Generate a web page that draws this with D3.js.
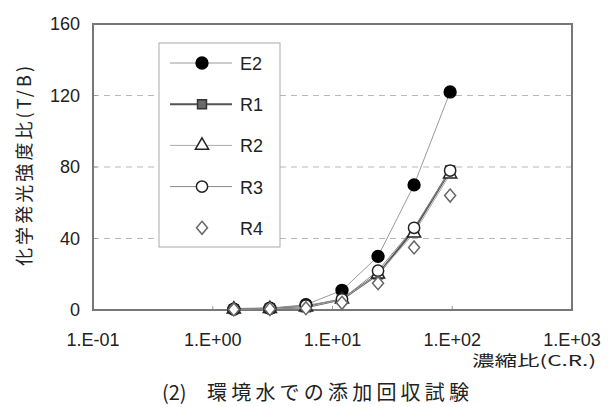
<!DOCTYPE html>
<html><head><meta charset="utf-8">
<script src="https://cdn.jsdelivr.net/npm/d3@7"></script>
<style>body{margin:0;background:#fff}svg{display:block}</style>
</head><body>
<svg id="c" width="611" height="407"></svg>
<script>
const concentration = [1.5, 3, 6, 12, 24, 48, 96];
const seriesNames = ["E2", "R1", "R2", "R3", "R4"];
const E2 = [0.5, 1, 3, 11, 30, 70, 122];
const R1 = [0.5, 0.8, 1.5, 6, 20, 45, 78];
const R2 = [0.4, 0.7, 1.5, 6, 20, 43, 76];
const R3 = [0.5, 1, 2.5, 6, 22, 46, 78];
const R4 = [0.3, 0.5, 1, 4, 15, 35, 64];
const xTicks = [0.1, 1, 10, 100, 1000];
const xTickLabels = ["1.E-01", "1.E+00", "1.E+01", "1.E+02", "1.E+03"];
const yTicks = [0, 40, 80, 120, 160];
const yTitle = "化学発光強度比(T/B)";
const xTitle = "濃縮比(C.R.)";
const captionNo = "(2)";
const captionText = "環境水での添加回収試験";

const values = {E2, R1, R2, R3, R4};
const diamond = {draw(ctx, size) { const w = 5.5, h = 6.5;
  ctx.moveTo(0, -h); ctx.lineTo(w, 0); ctx.lineTo(0, h); ctx.lineTo(-w, 0); ctx.closePath(); }};
const styles = {
  E2: {line: "#9a9a9a", lw: 1, sym: d3.symbolCircle, fill: "#000", stroke: "#000", size: 110},
  R1: {line: "#555", lw: 2, sym: d3.symbolSquare, fill: "#6a6a6a", stroke: "#333", size: 80},
  R2: {line: "#aaa", lw: 1, sym: d3.symbolTriangle, fill: "#fff", stroke: "#222", size: 75},
  R3: {line: "#888", lw: 1, sym: d3.symbolCircle, fill: "#fff", stroke: "#222", size: 100},
  R4: {line: null, lw: 0, sym: diamond, fill: "#fff", stroke: "#666", size: 70}
};

const svg = d3.select("#c");
const L = 93, R = 572, T = 24, B = 310;
const x = d3.scaleLog().domain([0.1, 1000]).range([L, R]);
const y = d3.scaleLinear().domain([0, 160]).range([B, T]);
const font = "'Liberation Sans', Arial, sans-serif";
const cjk = "'Noto Sans CJK JP', sans-serif";

// gridlines
svg.append("g").selectAll("line").data(yTicks.filter(v => v > 0 && v < 160)).join("line")
  .attr("x1", L).attr("x2", R).attr("y1", d => y(d)).attr("y2", d => y(d))
  .attr("stroke", "#b8b8b8").attr("stroke-width", 1).attr("stroke-dasharray", "6,5");

// inward ticks
svg.append("g").selectAll("line").data(yTicks).join("line")
  .attr("x1", L).attr("x2", L + 4).attr("y1", d => y(d)).attr("y2", d => y(d))
  .attr("stroke", "#999");
svg.append("g").selectAll("line").data(xTicks).join("line")
  .attr("x1", d => x(d)).attr("x2", d => x(d)).attr("y1", B).attr("y2", B - 4)
  .attr("stroke", "#999");

// frame
svg.append("rect").attr("x", L).attr("y", T).attr("width", R - L).attr("height", B - T)
  .attr("fill", "none").attr("stroke", "#777").attr("stroke-width", 2);

// tick labels
svg.append("g").selectAll("text").data(yTicks).join("text")
  .attr("x", 80).attr("y", d => y(d) + 6).attr("text-anchor", "end")
  .attr("font-family", font).attr("font-size", 18).attr("fill", "#222").text(d => d);
svg.append("g").selectAll("text").data(xTicks).join("text")
  .attr("x", d => x(d)).attr("y", 346).attr("text-anchor", "middle")
  .attr("font-family", font).attr("font-size", 18).attr("fill", "#222")
  .text((d, i) => xTickLabels[i]);

// titles
svg.append("text").attr("transform", "translate(31,166) rotate(-90)")
  .attr("text-anchor", "middle").attr("font-family", cjk).attr("font-size", 18)
  .attr("fill", "#222").attr("textLength", 200).attr("lengthAdjust", "spacing").text(yTitle);
svg.append("text").attr("x", 596).attr("y", 366).attr("text-anchor", "end")
  .attr("font-family", cjk).attr("font-size", 15).attr("fill", "#222")
  .attr("textLength", 124).attr("lengthAdjust", "spacingAndGlyphs").text(xTitle);
svg.append("text").attr("x", 162).attr("y", 400)
  .attr("font-family", cjk).attr("font-size", 20).attr("fill", "#222").text(captionNo);
svg.append("text").attr("x", 207).attr("y", 400)
  .attr("font-family", cjk).attr("font-size", 20).attr("fill", "#222")
  .attr("textLength", 262).attr("lengthAdjust", "spacing").text(captionText);

// lines
const line = d3.line().x((d, i) => x(concentration[i])).y(d => y(d));
seriesNames.forEach(n => {
  const s = styles[n];
  if (s.line) svg.append("path").datum(values[n]).attr("d", line)
    .attr("fill", "none").attr("stroke", s.line).attr("stroke-width", s.lw);
});
// markers
seriesNames.forEach(n => {
  const s = styles[n];
  svg.append("g").selectAll("path").data(values[n]).join("path")
    .attr("transform", (d, i) => `translate(${x(concentration[i])},${y(d)})`)
    .attr("d", d3.symbol().type(s.sym).size(s.size))
    .attr("fill", s.fill).attr("stroke", s.stroke).attr("stroke-width", 1.5);
});

// legend
const lg = svg.append("g");
lg.append("rect").attr("x", 159).attr("y", 43).attr("width", 121).attr("height", 204)
  .attr("fill", "#fff").attr("stroke", "#aaa").attr("stroke-width", 1);
seriesNames.forEach((n, i) => {
  const s = styles[n];
  const yy = 63 + i * 41.2;
  if (s.line) lg.append("line").attr("x1", 170).attr("x2", 232).attr("y1", yy).attr("y2", yy)
    .attr("stroke", s.line).attr("stroke-width", s.lw);
  lg.append("path").attr("transform", `translate(202,${yy})`)
    .attr("d", d3.symbol().type(s.sym).size(s.size))
    .attr("fill", s.fill).attr("stroke", s.stroke).attr("stroke-width", 1.5);
  lg.append("text").attr("x", 240).attr("y", yy + 7).attr("font-family", font)
    .attr("font-size", 18).attr("fill", "#222").text(n);
});
</script>
</body></html>
